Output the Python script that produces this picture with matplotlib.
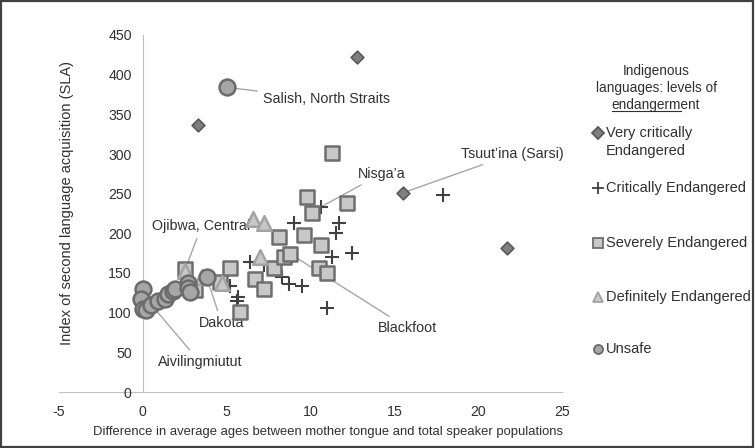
import matplotlib
matplotlib.use("Agg")
import matplotlib.pyplot as plt
from matplotlib.lines import Line2D
from matplotlib.patches import Rectangle

plt.rcParams["font.family"] = ["Liberation Sans", "DejaVu Sans"]
plt.rcParams["axes.unicode_minus"] = False

# --- data ---
very_crit_x = [12.8, 3.3, 15.5, 21.7]
very_crit_y = [422, 336, 251, 182]

crit_x = [4.4, 5.2, 5.7, 5.6, 6.4, 7.2, 8.3, 8.7, 9.5, 9.0, 10.6, 11.7, 11.5, 11.3, 12.5, 11.0, 17.9]
crit_y = [137, 133, 120, 115, 164, 160, 145, 136, 133, 213, 233, 213, 201, 170, 175, 106, 248]

severe_x = [2.5, 3.1, 4.6, 5.2, 5.8, 6.7, 7.2, 7.8, 8.1, 8.4, 8.8, 9.6, 9.8, 10.1, 10.6, 10.5, 11.0, 11.3, 12.2]
severe_y = [155, 129, 139, 156, 101, 143, 130, 156, 195, 170, 174, 198, 246, 226, 185, 156, 150, 301, 238]

definite_x = [2.5, 3.5, 4.7, 6.6, 7.2, 7.0]
definite_y = [153, 145, 137, 218, 213, 170]

unsafe_x = [5.0, 0.0, -0.1, 0.0, 0.2, 0.5, 0.9, 1.3, 1.5, 1.8, 1.9, 2.7, 2.7, 2.8, 3.8]
unsafe_y = [384, 130, 117, 104, 103, 110, 115, 117, 124, 127, 130, 137, 131, 126, 145]

series_labels = ["Very critically\nEndangered", "Critically Endangered", "Severely Endangered",
                 "Definitely Endangered", "Unsafe"]

x_ticks = [-5, 0, 5, 10, 15, 20, 25]
y_ticks = [0, 50, 100, 150, 200, 250, 300, 350, 400, 450]

# (label, series, index, text x, text y, ha, va)
callouts = [
    ("Salish, North Straits", "unsafe", 0, 7.15, 369, "left", "center"),
    ("Tsuut\u2019ina (Sarsi)", "very", 2, 19.0, 300, "left", "center"),
    ("Nisga\u2019a", "crit", 10, 12.8, 275, "left", "center"),
    ("Ojibwa, Central", "definite", 0, 3.5, 209, "center", "center"),
    ("Dakota", "unsafe", 14, 4.7, 87, "center", "center"),
    ("Aivilingmiutut", "unsafe", 5, 3.4, 38, "center", "center"),
    ("Blackfoot", "severe", 10, 14.0, 81, "left", "center"),
]

styles = [
    dict(marker="D", s=42, c="#7f7f7f", edgecolors="#595959", linewidths=1.2),
    dict(marker="+", s=90, c="#404040", linewidths=1.5),
    dict(marker="s", s=100, c="#c8c8c8", edgecolors="#6e6e6e", linewidths=1.8),
    dict(marker="^", s=110, c="#c8c8c8", edgecolors="#a3a3a3", linewidths=1.8),
    dict(marker="o", s=130, c="#a6a6a6", edgecolors="#6b6b6b", linewidths=1.8),
]

TXT = "#303030"

fig = plt.figure(figsize=(7.55, 4.48), dpi=100)
ax = fig.add_axes([59 / 755, 56 / 448, 503 / 755, 357 / 448])

all_series = [(very_crit_x, very_crit_y), (crit_x, crit_y), (severe_x, severe_y),
              (definite_x, definite_y), (unsafe_x, unsafe_y)]
for (xs, ys), st in zip(all_series, styles):
    ax.scatter(xs, ys, zorder=3, **st)

ax.set_xlim(-5, 25)
ax.set_ylim(0, 450)
ax.set_xticks(x_ticks)
ax.set_yticks(y_ticks)
for side in ("top", "right"):
    ax.spines[side].set_visible(False)
ax.spines["left"].set_position(("data", 0))
ax.spines["left"].set_color("#bfbfbf")
ax.spines["bottom"].set_color("#bfbfbf")
ax.spines["left"].set_zorder(0)
ax.spines["bottom"].set_zorder(0)
ax.tick_params(axis="both", length=0, labelsize=10.2, colors=TXT)
ax.tick_params(axis="x", pad=9)
ax.tick_params(axis="y", pad=8)
ax.set_xlabel("Difference in average ages between mother tongue and total speaker populations",
              fontsize=9.4, color=TXT)
ax.xaxis.set_label_coords(0.535, -0.095)
ax.set_ylabel("Index of second language acquisition (SLA)", fontsize=10.5, color=TXT)
ax.yaxis.set_label_coords(0.03, 0.53)
ax.patch.set_alpha(0)

lookup = {"very": (very_crit_x, very_crit_y), "crit": (crit_x, crit_y),
          "severe": (severe_x, severe_y), "definite": (definite_x, definite_y),
          "unsafe": (unsafe_x, unsafe_y)}
for label, key, idx, tx, ty, ha, va in callouts:
    xs, ys = lookup[key]
    ax.annotate(label, xy=(xs[idx], ys[idx]), xytext=(tx, ty), ha=ha, va=va,
                fontsize=10.3, color=TXT, zorder=2,
                arrowprops=dict(arrowstyle="-", color="#a6a6a6", lw=1.0,
                                shrinkA=2, shrinkB=0))

# legend, laid out like the Excel original
title_x = 656 / 755
fig.text(title_x, 1 - 71 / 448, "Indigenous", ha="center", va="center", fontsize=9.8, color=TXT)
fig.text(title_x, 1 - 88 / 448, "languages: levels of", ha="center", va="center", fontsize=9.8, color=TXT)
word = fig.text(title_x, 1 - 105 / 448, "endangerment", ha="center", va="center", fontsize=9.8, color=TXT)
renderer = fig.canvas.get_renderer()
bb = word.get_window_extent(renderer)
part = fig.text(0, 0, "endangerm", fontsize=9.8)
pw = part.get_window_extent(renderer).width
part.remove()
fig.add_artist(Line2D([bb.x0 / 755, (bb.x0 + pw) / 755], [(bb.y0 + 1) / 448] * 2,
                      transform=fig.transFigure, color=TXT, lw=0.8))

legend_y = [142, 188, 243, 297, 349]
marker_y = [133, 188, 243, 297, 349]
for lab, st, ly, my in zip(series_labels, styles, legend_y, marker_y):
    ms = 6.5 if st["marker"] != "+" else 8
    fig.add_artist(Line2D([598 / 755], [1 - my / 448], transform=fig.transFigure,
                          marker=st["marker"], markersize=ms, linestyle="none",
                          markerfacecolor=st["c"], markeredgecolor=st.get("edgecolors", st["c"]),
                          markeredgewidth=1.3, color=st["c"]))
    fig.text(606 / 755, 1 - ly / 448, lab, ha="left", va="center", fontsize=10.5,
             color=TXT, linespacing=1.35)

fig.add_artist(Rectangle((0.001, 0.002), 0.997, 0.996, transform=fig.transFigure,
                         fill=False, edgecolor="#404040", lw=1.6))

fig.savefig("out.png", dpi=100)
